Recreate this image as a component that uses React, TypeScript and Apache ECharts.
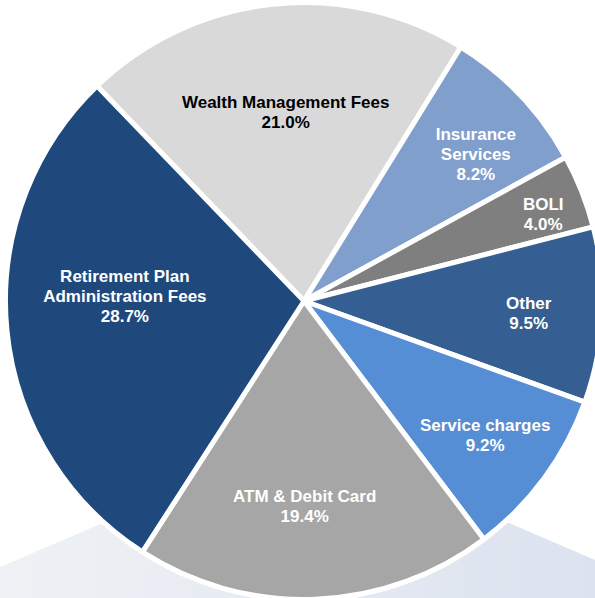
import React, { useEffect, useRef } from "react";
import * as echarts from "echarts";

const categories = [
  "Wealth Management Fees",
  "Insurance\nServices",
  "BOLI",
  "Other",
  "Service charges",
  "ATM & Debit Card",
  "Retirement Plan\nAdministration Fees",
];
const shares = [21.0, 8.2, 4.0, 9.5, 9.2, 19.4, 28.7];

const sliceColors = ["#d9d9d9", "#819fcd", "#7f7f7f", "#355f93", "#558ed5", "#a6a6a6", "#1f497d"];
const labelColors = ["#000000", "#ffffff", "#ffffff", "#ffffff", "#ffffff", "#ffffff", "#ffffff"];
const labelRadius = [191, 226, 254, 225, 225, 205, 179];
const labelNudge = [
  [2, 1],
  [8, 9],
  [3, 7],
  [0, 2],
  [0, 1.5],
  [-7, 1],
  [-1, -21.5],
];

const CX = 304;
const CY = 301;

export default function App() {
  const ref = useRef<HTMLDivElement>(null);
  useEffect(() => {
    if (!ref.current) return;
    const chart = echarts.init(ref.current, null, { renderer: "svg" });
    const option: any = {
      animation: false,
      backgroundColor: "#ffffff",
      graphic: [
        {
          type: "polygon",
          z: 0,
          silent: true,
          shape: {
            points: [
              [0, 567],
              [103, 523],
              [509, 523],
              [595, 560],
              [595, 598],
              [0, 598],
            ],
          },
          style: {
            fill: new echarts.graphic.LinearGradient(0, 0, 1, 0, [
              { offset: 0, color: "#eff1f5" },
              { offset: 1, color: "#dce3ef" },
            ]),
          },
        },
        {
          type: "circle",
          z: 1,
          silent: true,
          shape: { cx: CX, cy: CY, r: 301 },
          style: { fill: "#ffffff" },
        },
      ],
      series: [
        {
          type: "pie",
          z: 5,
          center: [CX, CY],
          radius: 298.5,
          startAngle: 133.9,
          clockwise: true,
          avoidLabelOverlap: false,
          silent: true,
          emphasis: { disabled: true },
          itemStyle: { borderColor: "#ffffff", borderWidth: 5 },
          labelLine: { show: false },
          label: {
            show: true,
            position: "inside",
            fontFamily: "Arial, 'Liberation Sans', sans-serif",
            fontWeight: "bold",
            fontSize: 17,
            lineHeight: 20,
            align: "center",
            formatter: (p: any) => `${p.name}\n${p.value.toFixed(1)}%`,
          },
          labelLayout: (p: any) => {
            const i = p.dataIndex;
            const r = p.labelRect;
            const lx = r.x + r.width / 2;
            const ly = r.y + r.height / 2;
            const vx = lx - CX;
            const vy = ly - CY;
            const len = Math.sqrt(vx * vx + vy * vy) || 1;
            return {
              x: CX + (vx / len) * labelRadius[i] + labelNudge[i][0],
              y: CY + (vy / len) * labelRadius[i] + labelNudge[i][1],
              align: "center",
              verticalAlign: "middle",
            };
          },
          data: categories.map((name, i) => ({
            name,
            value: shares[i],
            itemStyle: { color: sliceColors[i] },
            label: { color: labelColors[i] },
          })),
        },
      ],
    };
    chart.setOption(option);
    return () => chart.dispose();
  }, []);
  return (
    <div
      ref={ref}
      style={{ position: "fixed", left: 0, top: 0, width: 595, height: 598 }}
    />
  );
}
